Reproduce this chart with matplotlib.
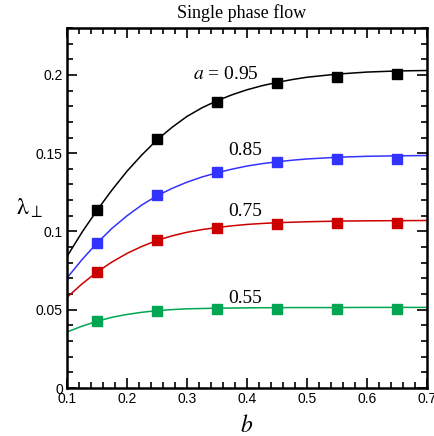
import matplotlib
matplotlib.use("Agg")
import matplotlib.pyplot as plt
from matplotlib.ticker import MultipleLocator, FixedFormatter, FixedLocator

plt.rcParams['mathtext.fontset'] = 'stix'

# marker data
b_pts = [0.15, 0.25, 0.35, 0.45, 0.55, 0.65]
a095_pts = [0.1135, 0.1590, 0.1825, 0.1945, 0.1985, 0.2006]
a085_pts = [0.0926, 0.1234, 0.1379, 0.1443, 0.1462, 0.1462]
a075_pts = [0.0741, 0.0947, 0.1022, 0.1047, 0.1057, 0.1057]
a055_pts = [0.0426, 0.0490, 0.0505, 0.0505, 0.0505, 0.0505]

# fitted curves
b_line = [0.1, 0.125, 0.15, 0.175, 0.2, 0.225, 0.25, 0.275, 0.3, 0.325, 0.35, 0.375, 0.4,
          0.425, 0.45, 0.475, 0.5, 0.55, 0.6, 0.65, 0.7]
a095_line = [0.084, 0.0995, 0.1135, 0.1265, 0.1385, 0.149, 0.1585, 0.1665, 0.1735, 0.1790, 0.1835,
             0.1873, 0.1905, 0.1931, 0.1952, 0.1970, 0.1985, 0.2005, 0.2018, 0.2025, 0.2028]
a085_line = [0.0703, 0.082, 0.0926, 0.102, 0.110, 0.117, 0.1228, 0.1275, 0.1315, 0.1348, 0.1375,
             0.1398, 0.1418, 0.1433, 0.1445, 0.1455, 0.1463, 0.1474, 0.148, 0.1483, 0.1485]
a075_line = [0.0579, 0.0665, 0.0741, 0.0805, 0.086, 0.0905, 0.0943, 0.0972, 0.0995, 0.1012, 0.1025,
             0.1036, 0.1045, 0.1051, 0.1056, 0.1059, 0.1062, 0.1066, 0.1068, 0.1069, 0.107]
a055_line = [0.0358, 0.0395, 0.0426, 0.0452, 0.047, 0.0484, 0.0494, 0.0501, 0.0506, 0.0508, 0.051,
             0.0511, 0.0512, 0.0513, 0.0513, 0.0514, 0.0514, 0.0514, 0.0515, 0.0515, 0.0515]

labels = [r'$a$ = 0.95', '0.85', '0.75', '0.55']
label_pos = [(0.31, 0.2005), (0.368, 0.1515), (0.368, 0.1125), (0.368, 0.0575)]
colors = ['#000000', '#3333ff', '#cc0000', '#00a651']

xticks = [0.1, 0.2, 0.3, 0.4, 0.5, 0.6, 0.7]
xticklabels = ['0.1', '0.2', '0.3', '0.4', '0.5', '0.6', '0.7']
yticks = [0, 0.05, 0.1, 0.15, 0.2]
yticklabels = ['0', '0.05', '0.1', '0.15', '0.2']

fig = plt.figure(figsize=(4.35, 4.36), dpi=100)
ax = fig.add_axes([0.154, 0.110, 0.828, 0.826])

lines = [a095_line, a085_line, a075_line, a055_line]
pts = [a095_pts, a085_pts, a075_pts, a055_pts]
for yl, yp, c, lab, pos in zip(lines, pts, colors, labels, label_pos):
    ax.plot(b_line, yl, color=c, lw=1.1, zorder=2)
    ax.plot(b_pts, yp, ls='none', marker='s', ms=6.8, color=c, mec=c, zorder=3)
    ax.text(pos[0], pos[1], lab, fontsize=14, family='Liberation Serif',
            ha='left', va='center', zorder=4)

ax.set_xlim(0.1, 0.7)
ax.set_ylim(0, 0.23)
ax.xaxis.set_major_locator(FixedLocator(xticks))
ax.xaxis.set_major_formatter(FixedFormatter(xticklabels))
ax.yaxis.set_major_locator(FixedLocator(yticks))
ax.yaxis.set_major_formatter(FixedFormatter(yticklabels))
ax.xaxis.set_minor_locator(MultipleLocator(0.02))
ax.yaxis.set_minor_locator(MultipleLocator(0.01))
ax.tick_params(which='both', direction='in', top=True, right=True, width=1.2, color='black')
ax.tick_params(which='major', length=7, labelsize=10, pad=3)
ax.tick_params(which='minor', length=4)
for lbl in ax.get_xticklabels() + ax.get_yticklabels():
    lbl.set_family('Liberation Sans')
for s in ax.spines.values():
    s.set_linewidth(1.8)

ax.set_title('Single phase flow', fontsize=13, family='Liberation Serif', pad=7, x=0.485)
ax.set_xlabel(r'$b$', fontsize=17, labelpad=5)
ax.set_ylabel(r'$\mathrm{\lambda}_{\perp}$', fontsize=17, rotation=0, ha='center', va='center')
ax.yaxis.set_label_coords(-0.105, 0.5)

fig.savefig('out.png', dpi=100)
